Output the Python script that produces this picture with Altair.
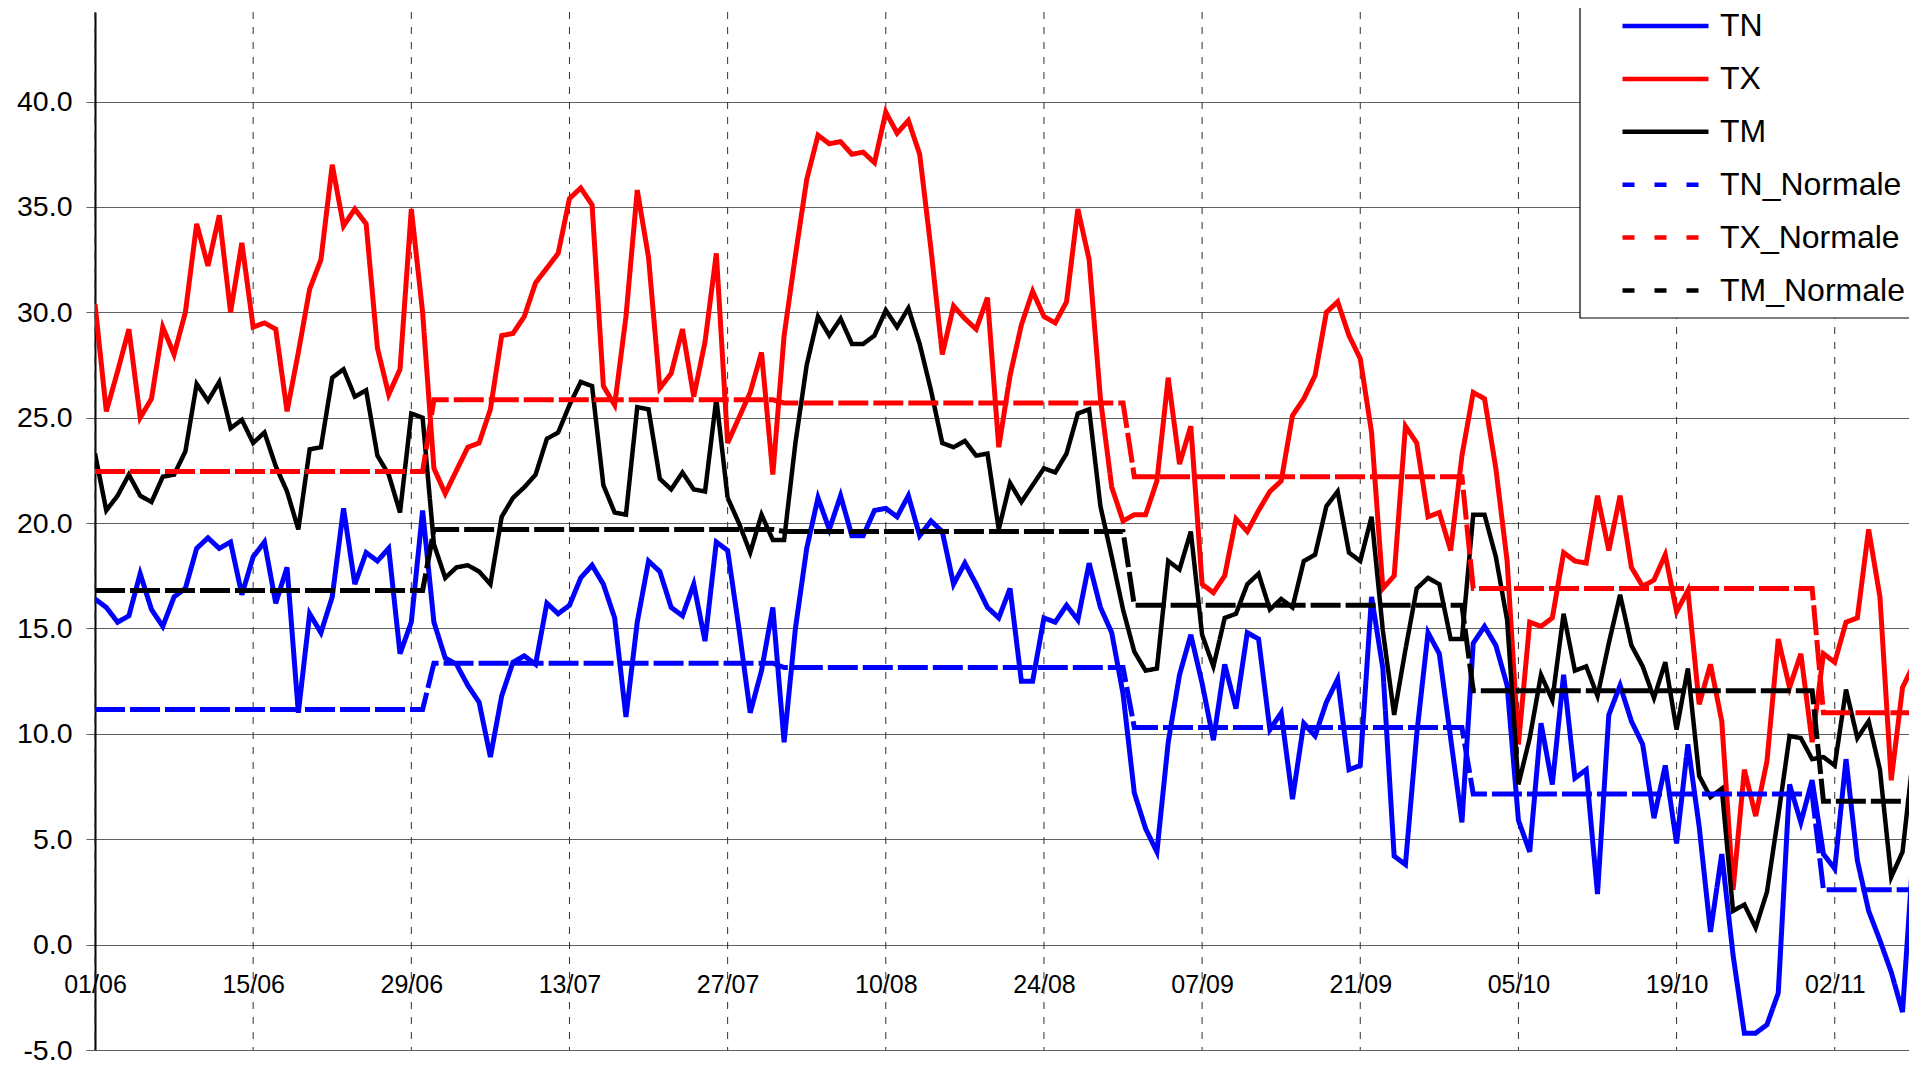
import altair as alt
import pandas as pd
from datetime import datetime, timedelta, timezone

START = datetime(2022, 6, 1, tzinfo=timezone.utc)

# Daily values (01/06 onwards)
TX = [30.4, 25.3, 27.2, 29.2, 25.0, 25.9, 29.3, 28.0, 30.0, 34.2,
      32.2, 34.6, 30.0, 33.3, 29.3, 29.5, 29.2, 25.3, 28.1, 31.1,
      32.5, 37.0, 34.1, 34.9, 34.2, 28.3, 26.1, 27.3, 34.9, 30.0,
      22.6, 21.4, 22.5, 23.6, 23.8, 25.4, 28.9, 29.0, 29.8, 31.4,
      32.1, 32.8, 35.4, 35.9, 35.1, 26.5, 25.6, 29.8, 35.8, 32.6,
      26.4, 27.1, 29.2, 26.0, 28.6, 32.8, 23.8, 25.0, 26.2, 28.1,
      22.3, 28.9, 32.7, 36.3, 38.4, 38.0, 38.1, 37.5, 37.6, 37.1,
      39.5, 38.5, 39.1, 37.5, 33.0, 28.0, 30.3, 29.7, 29.2, 30.7,
      23.6, 27.0, 29.4, 31.0, 29.8, 29.5, 30.5, 34.9, 32.5, 25.9,
      21.7, 20.1, 20.4, 20.4, 22.0, 26.9, 22.8, 24.6, 17.1, 16.7,
      17.5, 20.2, 19.6, 20.6, 21.5, 22.0, 25.1, 25.9, 27.0, 30.0,
      30.5, 28.9, 27.8, 24.3, 16.9, 17.5, 24.6, 23.8, 20.3, 20.5,
      18.7, 23.2, 26.2, 25.9, 22.6, 18.2, 9.5, 15.3, 15.1, 15.5,
      18.6, 18.2, 18.1, 21.3, 18.7, 21.3, 17.9, 17.0, 17.3, 18.5,
      15.8, 16.8, 11.4, 13.3, 10.6, 2.6, 8.3, 6.1, 8.7, 14.5,
      12.2, 13.8, 9.6, 13.8, 13.4, 15.3, 15.5, 19.7, 16.5, 7.8,
      12.2, 13.3, 16.0]

TM = [23.3, 20.6, 21.3, 22.3, 21.3, 21.0, 22.2, 22.3, 23.4, 26.6,
      25.8, 26.7, 24.5, 24.9, 23.8, 24.3, 22.7, 21.5, 19.7, 23.5,
      23.6, 26.9, 27.3, 26.0, 26.3, 23.2, 22.3, 20.5, 25.2, 25.0,
      19.0, 17.4, 17.9, 18.0, 17.7, 17.1, 20.3, 21.2, 21.7, 22.3,
      24.0, 24.3, 25.6, 26.7, 26.5, 21.8, 20.5, 20.4, 25.5, 25.4,
      22.1, 21.6, 22.4, 21.6, 21.5, 25.9, 21.2, 20.0, 18.6, 20.4,
      19.2, 19.2, 23.8, 27.5, 29.8, 28.9, 29.7, 28.5, 28.5, 28.9,
      30.1, 29.3, 30.2, 28.5, 26.3, 23.8, 23.6, 23.9, 23.2, 23.3,
      19.7, 21.9, 21.0, 21.8, 22.6, 22.4, 23.3, 25.2, 25.4, 20.8,
      18.4, 15.9, 13.9, 13.0, 13.1, 18.2, 17.8, 19.6, 14.7, 13.2,
      15.5, 15.7, 17.1, 17.6, 15.9, 16.4, 16.0, 18.2, 18.5, 20.8,
      21.5, 18.6, 18.2, 20.3, 14.9, 10.9, 14.0, 16.9, 17.4, 17.1,
      14.5, 14.5, 20.4, 20.4, 18.4, 15.4, 7.6, 9.8, 12.8, 11.6,
      15.7, 13.0, 13.2, 11.8, 14.3, 16.6, 14.2, 13.2, 11.7, 13.4,
      10.2, 13.1, 8.0, 7.0, 7.4, 1.6, 1.9, 0.8, 2.5, 6.1,
      9.9, 9.8, 8.8, 8.9, 8.5, 12.1, 9.8, 10.6, 8.3, 3.2,
      4.4, 9.2, 11.0]

TN = [16.4, 16.0, 15.3, 15.6, 17.6, 15.9, 15.1, 16.5, 16.9, 18.8,
      19.3, 18.8, 19.1, 16.6, 18.4, 19.1, 16.2, 17.9, 11.0, 15.7,
      14.8, 16.5, 20.7, 17.1, 18.6, 18.2, 18.8, 13.8, 15.3, 20.6,
      15.3, 13.6, 13.3, 12.3, 11.5, 8.9, 11.8, 13.4, 13.7, 13.3,
      16.2, 15.7, 16.1, 17.4, 18.0, 17.1, 15.5, 10.8, 15.3, 18.2,
      17.7, 16.0, 15.6, 17.1, 14.4, 19.1, 18.7, 15.0, 11.0, 13.0,
      16.0, 9.6, 15.0, 18.8, 21.2, 19.7, 21.3, 19.4, 19.4, 20.6,
      20.7, 20.3, 21.3, 19.4, 20.1, 19.6, 17.1, 18.1, 17.1, 16.0,
      15.5, 16.9, 12.5, 12.5, 15.5, 15.3, 16.1, 15.4, 18.1, 16.0,
      14.8, 11.9, 7.2, 5.5, 4.4, 9.6, 12.8, 14.7, 12.4, 9.7,
      13.3, 11.2, 14.8, 14.5, 10.2, 11.0, 6.9, 10.5, 9.9, 11.5,
      12.6, 8.3, 8.5, 16.5, 13.1, 4.2, 3.8, 10.0, 14.8, 13.8,
      9.8, 5.8, 14.3, 15.1, 14.2, 12.3, 5.9, 4.4, 10.5, 7.6,
      12.8, 7.9, 8.3, 2.4, 10.9, 12.3, 10.6, 9.5, 6.0, 8.5,
      4.8, 9.5, 5.6, 0.6, 4.3, -0.5, -4.2, -4.2, -3.8, -2.3,
      7.6, 5.8, 7.8, 4.3, 3.6, 8.8, 4.0, 1.6, 0.2, -1.3,
      -3.2, 4.8, 7.0]

# Monthly normals (June .. November)
NORM_MONTHS = [6, 7, 8, 9, 10, 11]
TX_NORM = [22.45, 25.85, 25.7, 22.2, 16.9, 11.0]
TM_NORM = [16.8, 19.7, 19.6, 16.1, 12.05, 6.8]
TN_NORM = [11.15, 13.35, 13.15, 10.3, 7.15, 2.6]

SERIES = ["TN", "TX", "TM", "TN_Normale", "TX_Normale", "TM_Normale"]
COLORS = ["#0000FF", "#FF0000", "#000000", "#0000FF", "#FF0000", "#000000"]
DASHES = [[1, 0], [1, 0], [1, 0], [30, 5], [30, 5], [30, 5]]
LEGEND_DASHES = [[1, 0], [1, 0], [1, 0], [12, 20], [12, 20], [12, 20]]
WIDTHS = [5, 5, 4.5, 5, 5, 5]

TICK_DATES = ["2022-06-01", "2022-06-15", "2022-06-29", "2022-07-13",
              "2022-07-27", "2022-08-10", "2022-08-24", "2022-09-07",
              "2022-09-21", "2022-10-05", "2022-10-19", "2022-11-02"]
Y_TICKS = [-5, 0, 5, 10, 15, 20, 25, 30, 35, 40]


def ms(dt):
    return int(dt.timestamp() * 1000)


rows = []
n = min(len(TX), len(TM), len(TN))
for i in range(n):
    d = START + timedelta(days=i)
    ds = d.strftime("%Y-%m-%d")
    k = NORM_MONTHS.index(d.month)
    vals = [TN[i], TX[i], TM[i], TN_NORM[k], TX_NORM[k], TM_NORM[k]]
    for s, v in zip(SERIES, vals):
        rows.append({"date": ds, "series": s, "temp": v})
df = pd.DataFrame(rows)

ticks_df = pd.DataFrame({"date": TICK_DATES})
tick_ms = [ms(datetime.strptime(t, "%Y-%m-%d").replace(tzinfo=timezone.utc)) for t in TICK_DATES]

PLOT_W = 1814
PLOT_H = 1038
PX_PER_DAY = 11.297
x_end = ms(START) + (PLOT_W / PX_PER_DAY) * 86400000
Y_MIN, Y_MAX = -5, 44.25
zero_px = (Y_MAX - 0) / (Y_MAX - Y_MIN) * PLOT_H

x_enc = alt.X(
    "date:T",
    scale=alt.Scale(type="utc", domain=[ms(START), x_end], nice=False),
    axis=alt.Axis(
        values=tick_ms,
        labelExpr="utcFormat(datum.value, '%d/%m')",
        grid=False, domain=False, ticks=False, tickSize=0,
        labelFont="Liberation Sans", labelFontSize=25, labelColor="black",
        labelPadding=28, offset=-(PLOT_H - zero_px),
        labelFlush=False, labelOverlap=False, title=None,
    ),
)
y_enc = alt.Y(
    "temp:Q",
    scale=alt.Scale(domain=[Y_MIN, Y_MAX], nice=False, zero=False),
    axis=alt.Axis(
        values=Y_TICKS,
        labelExpr="replace(format(datum.value, '.1f'), '\u2212', '-')",
        grid=True, gridColor="#606060", gridWidth=1,
        domain=True, domainColor="black", domainWidth=2,
        ticks=True, tickColor="#606060", tickSize=9, tickWidth=1,
        labelFont="Liberation Sans", labelFontSize=28.5, labelColor="black",
        labelPadding=14, labelOverlap=False, title=None,
    ),
)

legend = alt.Legend(
    title=None, orient="none", legendX=1525, legendY=-1,
    direction="vertical", symbolType="stroke", symbolSize=86 * 86,
    symbolStrokeWidth=4.5, clipHeight=30, rowPadding=20.9,
    labelFont="Liberation Sans", labelFontSize=32, labelColor="black",
    labelOffset=9, labelLimit=500, padding=0,
)

vgrid = alt.Chart(ticks_df).mark_rule(color="#303030", strokeWidth=1, strokeDash=[7, 8]).encode(x=x_enc)

base = alt.Chart(df)
line_layers = []
for s, w in zip(SERIES, WIDTHS):
    line_layers.append(
        base.transform_filter(alt.datum.series == s)
        .mark_line(clip=True, strokeWidth=w, strokeCap="butt")
        .encode(
            x=x_enc, y=y_enc,
            color=alt.Color("series:N", scale=alt.Scale(domain=SERIES, range=COLORS), legend=None),
            strokeDash=alt.StrokeDash("series:N", scale=alt.Scale(domain=SERIES, range=DASHES), legend=None),
        )
    )

legend_box = alt.Chart(alt.Data(values=[{"box": 1}])).mark_rect(
    fill="white", stroke="black", strokeWidth=1.2
).encode(x=alt.value(1485), x2=alt.value(1860), y=alt.value(-30), y2=alt.value(306))

# empty layer that only carries the legend (its dash pattern differs from the plot's)
legend_layer = base.transform_filter("datum.temp > 1000").mark_line(strokeWidth=4.5).encode(
    x=x_enc, y=y_enc,
    color=alt.Color("series:N", scale=alt.Scale(domain=SERIES, range=COLORS), legend=legend),
    strokeDash=alt.StrokeDash("series:N", scale=alt.Scale(domain=SERIES, range=LEGEND_DASHES), legend=legend),
)

chart = alt.layer(vgrid, *line_layers, legend_box, legend_layer).resolve_scale(
    color="independent", strokeDash="independent"
).properties(
    width=PLOT_W, height=PLOT_H,
    padding={"left": 87, "top": 4, "right": 0, "bottom": 15},
    autosize=alt.AutoSizeParams(type="none"),
    background="white",
).configure_view(stroke="transparent")

chart.save("out.html", embed_options={"renderer": "svg", "actions": False})
